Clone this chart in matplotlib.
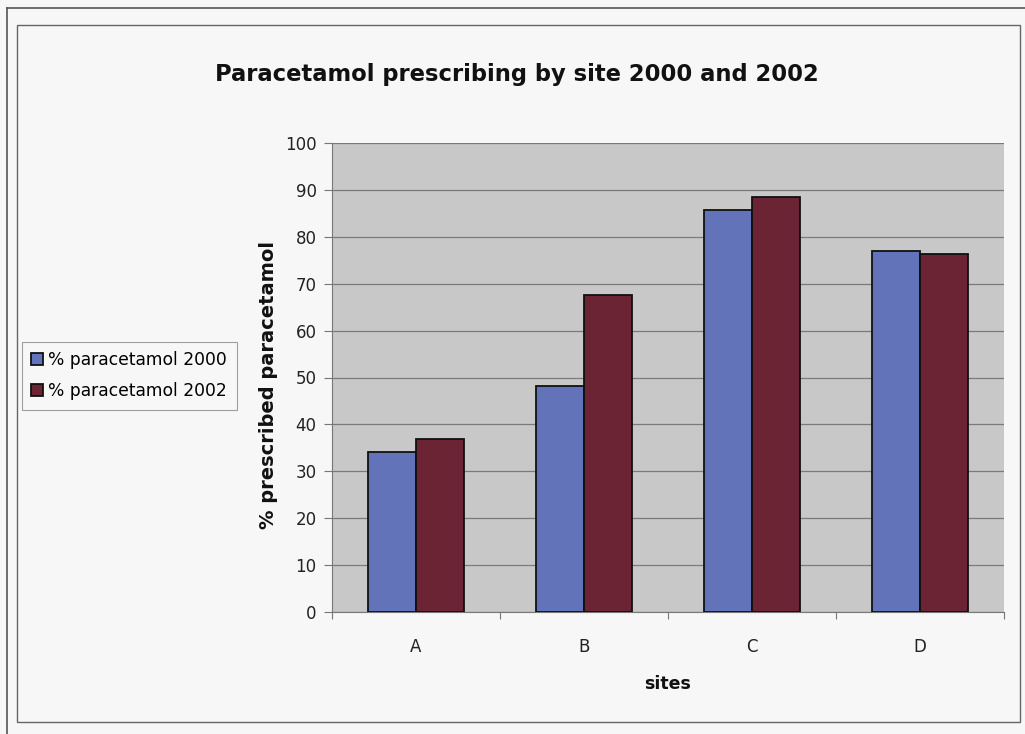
import matplotlib
matplotlib.use("Agg")
import matplotlib.pyplot as plt
from matplotlib.patches import Rectangle
from matplotlib.lines import Line2D
import numpy as np

sites = ["A", "B", "C", "D"]
pct_2000 = [34.1, 48.2, 85.8, 77.0]
pct_2002 = [36.9, 67.5, 88.5, 76.4]
series_labels = ["% paracetamol 2000", "% paracetamol 2002"]
yticks = list(range(0, 101, 10))

W, H = 1025, 734
fig = plt.figure(figsize=(W / 100, H / 100), dpi=100, facecolor="#f7f7f7")

def fx(px):
    return px / W

def fy(py):
    return 1 - py / H

# page / chart borders
fig.add_artist(Line2D([fx(7), fx(1025)], [fy(8), fy(8)], color="#555555", lw=1.2))
fig.add_artist(Line2D([fx(7), fx(7)], [fy(8), fy(734)], color="#555555", lw=1.2))
fig.add_artist(Rectangle((fx(17), fy(722)), fx(1020) - fx(17), fy(25) - fy(722),
                         fill=False, edgecolor="#666666", lw=1.0))

ax = fig.add_axes([fx(332), fy(612), fx(1004) - fx(332), fy(143) - fy(612)])
ax.set_facecolor("#c8c8c8")

x = np.arange(len(sites))
bw = 1 / 3.5
ax.bar(x - bw / 2, pct_2000, bw, color="#6373b9", edgecolor="#111111", lw=1.3,
       label=series_labels[0], zorder=3)
ax.bar(x + bw / 2, pct_2002, bw, color="#6a2433", edgecolor="#111111", lw=1.3,
       label=series_labels[1], zorder=3)

ax.set_xlim(-0.5, len(sites) - 0.5)
ax.set_ylim(0, 100)
ax.set_yticks(yticks)
ax.set_yticklabels([str(v) for v in yticks], fontsize=12, color="#222222")
ax.yaxis.grid(True, color="#7a7a7a", lw=0.9, zorder=1)
ax.set_axisbelow(True)

ax.set_xticks(np.arange(-0.5, len(sites), 1.0))
ax.set_xticklabels([])
ax.set_xticks(x, minor=True)
ax.set_xticklabels(sites, minor=True, fontsize=12, color="#222222")
ax.tick_params(axis="x", which="major", length=5, color="#777777", direction="out")
ax.tick_params(axis="x", which="minor", length=0, pad=19)
ax.tick_params(axis="y", length=6, color="#777777", pad=5)

for s in ["top", "right"]:
    ax.spines[s].set_visible(False)
ax.spines["left"].set_color("#777777")
ax.spines["bottom"].set_color("#777777")

fig.text(fx(517), fy(75), "Paracetamol prescribing by site 2000 and 2002",
         ha="center", va="center", fontsize=16.3, fontweight="bold", color="#111111")
fig.text(fx(268), fy(385), "% prescribed paracetamol", rotation=90,
         ha="center", va="center", fontsize=14, fontweight="bold", color="#111111")
fig.text(fx(668), fy(684), "sites", ha="center", va="center",
         fontsize=12.5, fontweight="bold", color="#111111")

leg = fig.legend(loc="upper left", bbox_to_anchor=(fx(22), fy(342)),
                 fontsize=12.3, frameon=True, fancybox=False, handlelength=0.7,
                 handleheight=0.7, handletextpad=0.3, borderpad=0.55,
                 labelspacing=0.75, borderaxespad=0)
leg.get_frame().set_edgecolor("#888888")
leg.get_frame().set_facecolor("#f7f7f7")
leg.get_frame().set_linewidth(0.8)

fig.savefig("out.png", dpi=100, facecolor=fig.get_facecolor())
